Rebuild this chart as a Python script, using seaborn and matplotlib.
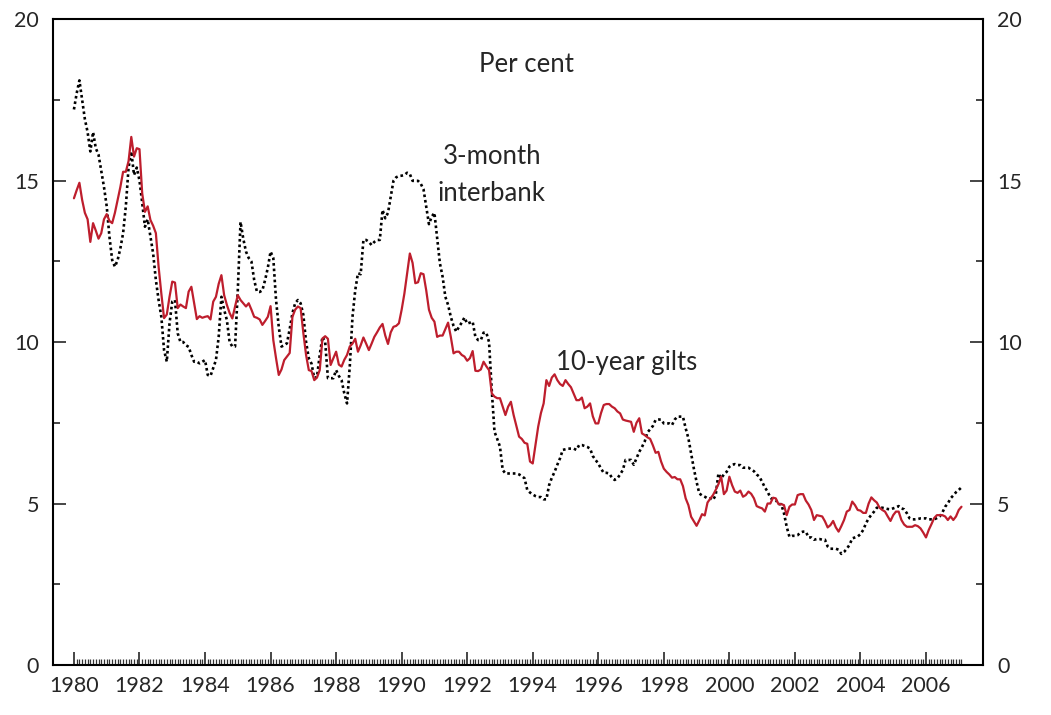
#importing the necessary libraries
import numpy as np
import pandas as pd
import matplotlib
matplotlib.use("Agg")
import matplotlib.pyplot as plt
import seaborn as sns
from matplotlib.ticker import MultipleLocator, FixedLocator

# monthly yields, per cent, Jan 1980 to Feb 2007
gilts_10y = [
    14.45, 14.7, 14.93, 14.4, 14.0, 13.8, 13.1, 13.68, 13.45, 13.2, 13.37, 13.8,        # 1980
    13.96, 13.75, 13.68, 14.0, 14.4, 14.8, 15.27, 15.27, 15.6, 16.35, 15.74, 16.0,      # 1981
    15.97, 14.6, 14.03, 14.2, 13.78, 13.6, 13.37, 12.33, 11.5, 10.74, 10.85, 11.4,      # 1982
    11.87, 11.84, 11.05, 11.16, 11.1, 11.05, 11.56, 11.71, 11.2, 10.71, 10.8, 10.75,    # 1983
    10.78, 10.8, 10.7, 11.25, 11.4, 11.8, 12.07, 11.45, 11.15, 10.9, 10.73, 11.1,       # 1984
    11.45, 11.3, 11.2, 11.1, 11.2, 11.0, 10.78, 10.75, 10.7, 10.53, 10.65, 10.78,       # 1985
    11.11, 10.06, 9.5, 8.98, 9.15, 9.44, 9.55, 9.66, 10.78, 11.0, 11.1, 11.05,          # 1986
    10.28, 9.6, 9.13, 9.1, 8.82, 8.9, 9.13, 10.11, 10.18, 10.1, 9.29, 9.5,              # 1987
    9.7, 9.3, 9.24, 9.45, 9.6, 9.86, 9.95, 10.1, 9.7, 9.9, 10.14, 9.95,                 # 1988
    9.75, 9.95, 10.16, 10.3, 10.45, 10.56, 10.2, 9.94, 10.3, 10.47, 10.5, 10.58,        # 1989
    11.0, 11.5, 12.13, 12.74, 12.45, 11.82, 11.85, 12.13, 12.1, 11.6, 11.0, 10.75,      # 1990
    10.63, 10.16, 10.2, 10.2, 10.4, 10.6, 10.16, 9.65, 9.7, 9.7, 9.6, 9.55,             # 1991
    9.42, 9.5, 9.72, 9.11, 9.1, 9.15, 9.39, 9.25, 9.13, 8.41, 8.31, 8.26,               # 1992
    8.26, 8.0, 7.74, 8.0, 8.15, 7.74, 7.4, 7.07, 7.0, 6.88, 6.85, 6.3,                  # 1993
    6.24, 6.8, 7.38, 7.8, 8.1, 8.82, 8.64, 8.9, 9.0, 8.82, 8.7, 8.64,                   # 1994
    8.82, 8.7, 8.6, 8.4, 8.2, 8.2, 8.28, 7.95, 8.0, 8.1, 7.7, 7.48,                     # 1995
    7.48, 7.8, 8.05, 8.08, 8.08, 8.0, 7.95, 7.85, 7.79, 7.6, 7.57, 7.55,                # 1996
    7.53, 7.22, 7.5, 7.64, 7.17, 7.12, 7.05, 7.0, 6.8, 6.57, 6.6, 6.3,                  # 1997
    6.08, 5.98, 5.9, 5.8, 5.82, 5.75, 5.75, 5.54, 5.16, 4.95, 4.59, 4.45,               # 1998
    4.31, 4.48, 4.67, 4.63, 5.03, 5.15, 5.26, 5.42, 5.6, 5.83, 5.29, 5.4,               # 1999
    5.83, 5.57, 5.37, 5.33, 5.4, 5.21, 5.26, 5.37, 5.3, 5.16, 4.92, 4.88,               # 2000
    4.85, 4.75, 5.0, 5.0, 5.18, 5.16, 4.98, 4.98, 4.95, 4.64, 4.9, 4.97,                # 2001
    4.97, 5.26, 5.29, 5.29, 5.09, 4.97, 4.8, 4.49, 4.64, 4.62, 4.6, 4.45,               # 2002
    4.26, 4.33, 4.46, 4.26, 4.13, 4.3, 4.49, 4.75, 4.8, 5.06, 4.95, 4.8,                # 2003
    4.78, 4.71, 4.71, 5.0, 5.19, 5.1, 5.03, 4.87, 4.8, 4.75, 4.6, 4.46,                 # 2004
    4.64, 4.75, 4.75, 4.49, 4.35, 4.28, 4.28, 4.28, 4.33, 4.3, 4.23, 4.1,               # 2005
    3.95, 4.18, 4.36, 4.55, 4.64, 4.64, 4.64, 4.6, 4.49, 4.6, 4.49, 4.6,                # 2006
    4.8, 4.9,                                                                           # 2007
]
interbank_3m = [
    17.2, 17.7, 18.1, 17.5, 16.9, 16.5, 15.9, 16.5, 16.0, 15.8, 15.3, 14.8,             # 1980
    14.2, 13.26, 12.54, 12.33, 12.54, 12.9, 13.37, 14.2, 15.4, 15.9, 15.17, 15.4,       # 1981
    15.0, 14.3, 13.57, 13.8, 13.26, 12.74, 11.92, 11.3, 10.78, 9.75, 9.39, 10.58,       # 1982
    11.25, 11.3, 10.27, 10.0, 10.0, 9.9, 9.85, 9.6, 9.39, 9.39, 9.34, 9.39,             # 1983
    9.44, 8.98, 8.95, 9.2, 9.44, 10.16, 11.4, 11.0, 10.68, 10.0, 9.86, 9.86,            # 1984
    11.6, 13.72, 13.2, 12.8, 12.6, 12.49, 11.92, 11.56, 11.55, 11.6, 11.92, 12.3,       # 1985
    12.8, 12.6, 11.3, 10.47, 9.86, 9.9, 9.96, 10.4, 10.89, 11.2, 11.3, 11.2,            # 1986
    10.84, 10.0, 9.5, 9.33, 8.88, 8.92, 9.6, 10.16, 10.0, 8.88, 8.88, 8.88,             # 1987
    9.13, 8.95, 8.82, 8.41, 8.1, 9.24, 10.78, 11.6, 12.13, 12.1, 13.16, 13.16,          # 1988
    13.1, 13.0, 13.1, 13.16, 13.16, 14.09, 13.83, 14.0, 14.5, 14.99, 15.1, 15.14,       # 1989
    15.15, 15.17, 15.24, 15.2, 14.99, 14.99, 14.99, 14.9, 14.73, 14.2, 13.65, 13.88,    # 1990
    14.0, 13.21, 12.44, 12.02, 11.4, 11.15, 10.78, 10.5, 10.32, 10.47, 10.6, 10.76,     # 1991
    10.57, 10.6, 10.63, 10.16, 10.06, 10.06, 10.29, 10.29, 10.0, 8.5, 7.22, 7.0,        # 1992
    6.76, 6.04, 5.93, 5.93, 5.93, 5.93, 5.93, 5.9, 5.85, 5.78, 5.42, 5.34,              # 1993
    5.28, 5.23, 5.2, 5.2, 5.13, 5.13, 5.57, 5.8, 5.98, 6.2, 6.4, 6.66,                  # 1994
    6.68, 6.7, 6.7, 6.7, 6.66, 6.81, 6.81, 6.78, 6.75, 6.7, 6.47, 6.35,                 # 1995
    6.24, 6.08, 5.95, 5.95, 5.93, 5.8, 5.73, 5.78, 5.9, 6.04, 6.35, 6.35,               # 1996
    6.35, 6.2, 6.4, 6.6, 6.75, 6.92, 7.2, 7.3, 7.4, 7.59, 7.6, 7.6,                     # 1997
    7.48, 7.48, 7.48, 7.43, 7.6, 7.69, 7.69, 7.69, 7.33, 7.02, 6.55, 6.08,              # 1998
    5.67, 5.31, 5.25, 5.21, 5.16, 5.16, 5.11, 5.26, 5.93, 5.78, 5.9, 5.98,              # 1999
    6.14, 6.2, 6.22, 6.19, 6.19, 6.11, 6.11, 6.11, 6.05, 6.0, 5.9, 5.83,                # 2000
    5.67, 5.5, 5.37, 5.18, 5.11, 5.11, 4.98, 4.98, 4.7, 4.28, 3.97, 4.0,                # 2001
    4.0, 4.02, 4.1, 4.13, 4.13, 3.95, 3.95, 3.88, 3.9, 3.9, 3.88, 3.88,                 # 2002
    3.67, 3.6, 3.6, 3.6, 3.57, 3.44, 3.5, 3.6, 3.72, 3.92, 3.95, 3.98,                  # 2003
    4.05, 4.18, 4.38, 4.54, 4.65, 4.75, 4.87, 4.87, 4.87, 4.85, 4.83, 4.82,             # 2004
    4.85, 4.88, 4.92, 4.85, 4.82, 4.7, 4.54, 4.51, 4.51, 4.52, 4.54, 4.54,              # 2005
    4.54, 4.51, 4.51, 4.51, 4.55, 4.6, 4.72, 4.9, 5.0, 5.16, 5.25, 5.35,                # 2006
    5.42, 5.5,                                                                          # 2007
]
dates = pd.date_range("1980-01-01", periods=len(gilts_10y), freq="MS")
year_frac = dates.year + (dates.month - 1) / 12

year_ticks = list(range(1980, 2007, 2))

df = pd.DataFrame({"year": year_frac, "gilts": gilts_10y, "interbank": interbank_3m})

sns.set_style("white")
plt.rcParams["font.family"] = ["Lato", "DejaVu Sans"]

fig = plt.figure(figsize=(10.51, 7.15), dpi=100)
ax = fig.add_axes([0.0504, 0.0699, 0.8849, 0.9035])

sns.lineplot(data=df, x="year", y="interbank", ax=ax, color="black",
             linewidth=1.9, linestyle=(0, (1, 1.1)))
sns.lineplot(data=df, x="year", y="gilts", ax=ax, color="#BE1E2D", linewidth=1.6)

ax.set_xlim(1979.36, 2007.74)
ax.set_ylim(0, 20)
ax.set_xlabel("")
ax.set_ylabel("")

#ticks: majors inward, monthly minor ticks on x
ax.xaxis.set_major_locator(FixedLocator(year_ticks))
ax.xaxis.set_minor_locator(FixedLocator(list(year_frac)))
ax.yaxis.set_major_locator(MultipleLocator(5))
ax.yaxis.set_minor_locator(MultipleLocator(2.5))
ax.tick_params(axis="x", which="major", direction="in", length=9.5, width=1.2,
               labelsize=15.5, pad=8, top=False, bottom=True)
ax.tick_params(axis="x", which="minor", direction="in", length=4.3, width=0.9,
               top=False, bottom=True, color="#333333")
ax.tick_params(axis="y", which="major", direction="in", length=9.5, width=1.2,
               labelsize=15.5, pad=10, left=True, right=True, labelleft=True, labelright=True)
ax.tick_params(axis="y", which="minor", direction="in", length=5, width=1.2,
               left=True, right=True)

for s in ax.spines.values():
    s.set_visible(True)
    s.set_color("black")
    s.set_linewidth(1.5)

ax.text(1993.82, 18.58, "Per cent", fontsize=18.5, ha="center", va="center")
ax.text(1992.75, 15.73, "3-month", fontsize=18.5, ha="center", va="center")
ax.text(1992.75, 14.61, "interbank", fontsize=18.5, ha="center", va="center")
ax.text(1994.72, 9.38, "10-year gilts", fontsize=18.5, ha="left", va="center")

plt.savefig("out.png", dpi=100)
